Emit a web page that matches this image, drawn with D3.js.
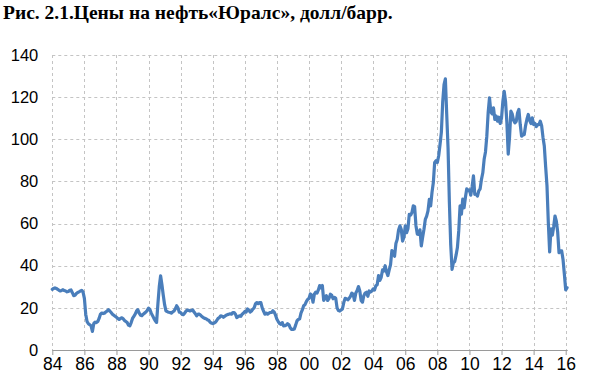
<!DOCTYPE html>
<html>
<head>
<meta charset="utf-8">
<script src="https://cdn.jsdelivr.net/npm/d3@7"></script>
<style>
html,body{margin:0;padding:0;background:#fff;}
svg{display:block;}
</style>
</head>
<body>
<svg id="chart" width="595" height="384"></svg>
<script>
const title = "Рис. 2.1.Цены на нефть«Юралс», долл/барр.";
const startYear = 1984;
// monthly Urals price, USD/bbl, Jan 1984 – Feb 2016 (one row per year)
const values = [
  [28.8, 29.2, 29.5, 29.2, 28.8, 28.3, 28.0, 28.3, 28.6, 28.2, 28.0, 27.6], // 1984
  [27.8, 28.3, 28.5, 27.2, 25.8, 26.0, 26.8, 27.3, 27.6, 28.0, 28.3, 27.5], // 1985
  [24.5, 17.0, 13.5, 12.5, 12.0, 11.5, 8.8, 12.5, 13.2, 13.0, 13.5, 15.0],  // 1986
  [17.0, 17.5, 17.3, 17.5, 18.0, 18.5, 19.1, 18.5, 17.8, 17.0, 16.5, 16.0], // 1987
  [15.5, 15.0, 14.5, 15.0, 15.3, 14.8, 14.0, 13.5, 13.0, 11.8, 11.5, 13.0], // 1988
  [15.0, 16.0, 17.0, 18.5, 19.1, 17.5, 16.5, 16.3, 17.0, 17.5, 18.0, 18.8], // 1989
  [19.9, 19.2, 17.5, 16.3, 15.0, 13.9, 13.1, 22.0, 30.0, 35.2, 31.0, 26.0], // 1990
  [21.5, 18.6, 18.2, 17.9, 17.8, 17.5, 18.0, 18.5, 19.5, 21.0, 20.0, 17.9], // 1991
  [17.8, 17.0, 16.8, 17.5, 18.5, 19.0, 18.8, 18.5, 18.7, 19.0, 18.0, 17.2], // 1992
  [16.2, 17.0, 17.0, 16.5, 15.8, 15.4, 15.0, 14.8, 14.3, 14.1, 13.2, 12.8], // 1993
  [12.5, 12.8, 13.2, 14.0, 15.0, 15.4, 16.2, 16.0, 15.5, 16.0, 16.5, 16.8], // 1994
  [17.0, 17.2, 17.0, 17.8, 17.8, 17.0, 15.4, 15.8, 16.2, 16.0, 17.0, 17.5], // 1995
  [18.3, 18.0, 19.5, 19.0, 18.0, 18.5, 19.4, 20.0, 22.0, 22.5, 22.0, 22.5], // 1996
  [22.5, 20.0, 18.5, 17.0, 17.5, 17.0, 17.5, 17.8, 17.8, 18.6, 18.0, 16.5], // 1997
  [14.6, 13.5, 12.5, 12.2, 13.0, 11.4, 11.5, 11.8, 12.5, 12.0, 10.5, 9.8],  // 1998
  [9.8, 10.0, 11.8, 13.8, 14.5, 14.8, 17.5, 19.0, 21.0, 21.5, 23.0, 24.0],  // 1999
  [24.5, 26.6, 26.0, 22.7, 26.5, 27.4, 27.0, 28.5, 30.6, 29.5, 30.6, 23.5], // 2000
  [24.5, 25.8, 23.5, 24.5, 26.5, 26.0, 24.3, 25.0, 24.5, 20.0, 18.7, 18.5], // 2001
  [19.0, 19.5, 22.5, 24.5, 24.3, 23.8, 24.5, 25.5, 27.0, 26.5, 23.5, 27.0], // 2002
  [28.2, 30.1, 28.0, 23.5, 22.7, 25.8, 27.0, 27.4, 25.5, 28.0, 27.5, 28.0], // 2003
  [29.0, 28.5, 30.5, 31.0, 35.3, 33.0, 34.5, 38.0, 37.5, 40.0, 37.0, 35.3], // 2004
  [38.0, 40.5, 47.2, 46.0, 44.5, 50.5, 52.5, 57.0, 58.9, 57.3, 51.7, 53.5], // 2005
  [58.9, 55.7, 57.5, 64.4, 64.0, 65.2, 68.4, 68.0, 59.0, 55.0, 54.9, 57.0], // 2006
  [49.4, 53.5, 57.3, 62.0, 63.5, 66.0, 71.5, 68.4, 74.8, 79.5, 89.0, 89.8], // 2007
  [89.0, 92.2, 97.5, 103.3, 117.6, 126.0, 128.7, 112.0, 96.0, 70.0, 50.0, 38.3], // 2008
  [41.4, 42.0, 45.0, 48.6, 56.5, 68.4, 64.5, 71.6, 67.5, 72.5, 76.5, 75.6], // 2009
  [76.0, 73.5, 77.5, 82.6, 73.9, 74.0, 73.0, 75.5, 76.5, 81.0, 84.1, 90.5], // 2010
  [94.0, 101.5, 112.6, 119.7, 113.0, 112.0, 114.9, 109.4, 111.0, 108.6, 110.5, 107.5], // 2011
  [110.0, 118.0, 122.8, 118.0, 108.0, 93.0, 101.0, 113.4, 112.0, 109.0, 107.8, 108.5], // 2012
  [112.6, 114.2, 107.0, 101.5, 102.0, 102.3, 106.5, 109.5, 111.8, 109.0, 107.5, 110.2], // 2013
  [107.0, 107.5, 106.0, 107.0, 107.0, 108.6, 106.5, 101.0, 96.8, 87.0, 78.0, 60.5], // 2014
  [46.5, 57.5, 54.5, 58.5, 63.6, 61.2, 56.0, 46.2, 47.0, 47.0, 43.0, 36.0], // 2015
  [28.5, 29.6] // 2016
];
const yTicks = [0, 20, 40, 60, 80, 100, 120, 140];
const xTickYears = [1984, 1986, 1988, 1990, 1992, 1994, 1996, 1998, 2000, 2002, 2004, 2006, 2008, 2010, 2012, 2014, 2016];
const xTickLabels = ["84","86","88","90","92","94","96","98","00","02","04","06","08","10","12","14","16"];

const data = [];
values.forEach((row, i) => row.forEach((v, m) => data.push({t: startYear + i + m / 12, v})));

const svg = d3.select("#chart");
const mLeft = 52.3, mRight = 565.7, mTop = 55, mBottom = 350;
const x = d3.scaleLinear().domain([1984, 2016]).range([mLeft, mRight]);
const y = d3.scaleLinear().domain([0, 140]).range([mBottom, mTop]);
const gridColor = "#c4c4c4";

// title
svg.append("text")
  .attr("x", 3).attr("y", 19)
  .attr("font-family", "'Liberation Serif','Times New Roman',serif")
  .attr("font-weight", "bold")
  .attr("font-size", 19.5)
  .attr("fill", "#000")
  .text(title);

// horizontal grid
svg.append("g").selectAll("line").data(yTicks.filter(d => d > 0)).join("line")
  .attr("x1", mLeft).attr("x2", x(2016) + 2)
  .attr("y1", d => Math.round(y(d)) + 0.5).attr("y2", d => Math.round(y(d)) + 0.5)
  .attr("stroke", gridColor).attr("stroke-width", 1).attr("stroke-dasharray", "3,3");

// vertical grid
svg.append("g").selectAll("line").data(xTickYears).join("line")
  .attr("x1", d => Math.round(x(d)) + 0.5).attr("x2", d => Math.round(x(d)) + 0.5)
  .attr("y1", mTop).attr("y2", mBottom)
  .attr("stroke", gridColor).attr("stroke-width", 1).attr("stroke-dasharray", "3,3");

// x axis
const xAxis = d3.axisBottom(x).tickValues(xTickYears)
  .tickFormat((d, i) => xTickLabels[i]).tickSize(5).tickPadding(3).tickSizeOuter(0);
const gx = svg.append("g").attr("transform", `translate(0,${mBottom})`).call(xAxis);
gx.select(".domain").attr("stroke", "#9a9a9a").attr("d", `M${mLeft},0.5H${x(2016) + 2}`);
gx.selectAll(".tick line").attr("stroke", "#9a9a9a");
gx.selectAll(".tick text")
  .attr("font-family", "'Liberation Sans',Arial,sans-serif")
  .attr("font-size", 17.5).attr("fill", "#000");

// y axis labels
const yAxis = d3.axisLeft(y).tickValues(yTicks).tickSize(0).tickPadding(14);
const gy = svg.append("g").attr("transform", `translate(${mLeft},0)`).call(yAxis);
gy.select(".domain").remove();
gy.selectAll(".tick text")
  .attr("font-family", "'Liberation Sans',Arial,sans-serif")
  .attr("font-size", 16.5).attr("fill", "#000");

// line
const line = d3.line().x(d => x(d.t)).y(d => y(d.v)).curve(d3.curveLinear);
svg.append("path").datum(data)
  .attr("d", line)
  .attr("fill", "none")
  .attr("stroke", "#4a7ebb")
  .attr("stroke-width", 3.2)
  .attr("stroke-linejoin", "round")
  .attr("stroke-linecap", "round");
</script>
</body>
</html>
